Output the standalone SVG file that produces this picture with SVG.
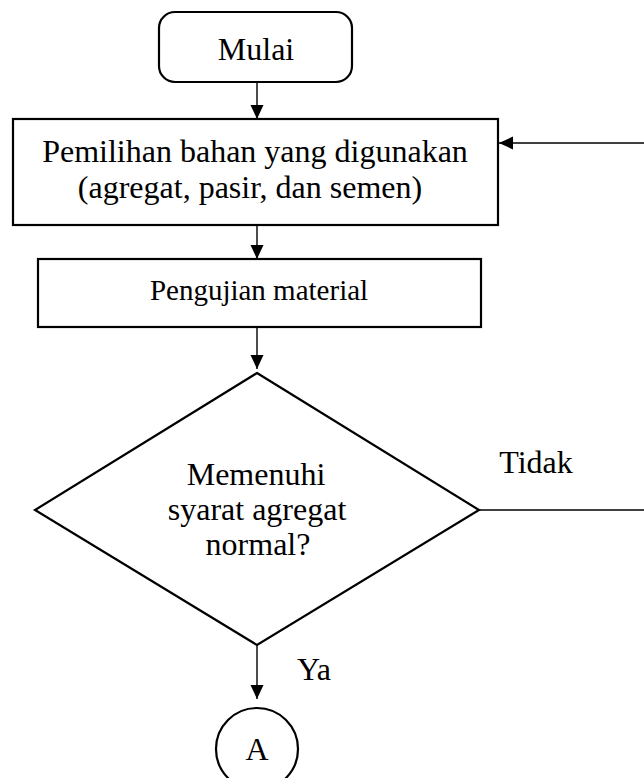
<svg xmlns="http://www.w3.org/2000/svg" width="644" height="778" viewBox="0 0 644 778">
<style>
.shape{fill:#fff;stroke:#000;stroke-width:2.2}
.conn{fill:none;stroke:#000;stroke-width:1.4}
text{font-family:"Liberation Serif","Times New Roman",serif;fill:#000;text-anchor:middle}
.big{font-size:32px}
.mid{font-size:29px}
</style>
<defs>
<marker id="arr" markerUnits="userSpaceOnUse" markerWidth="14" markerHeight="16" refX="14" refY="6.5" orient="auto">
<path d="M0,0 L14,6.5 L0,13 Z" fill="#000"/>
</marker>
</defs>
<rect width="644" height="778" fill="#fff"/>
<g id="connectors">
<line class="conn" x1="257" y1="82" x2="257" y2="119" marker-end="url(#arr)"/>
<line class="conn" x1="644" y1="143" x2="499" y2="143" marker-end="url(#arr)"/>
<line class="conn" x1="257" y1="225" x2="257" y2="259" marker-end="url(#arr)"/>
<line class="conn" x1="257" y1="327" x2="257" y2="369" marker-end="url(#arr)"/>
<line class="conn" x1="479" y1="510" x2="644" y2="510"/>
<line class="conn" x1="257" y1="645" x2="257" y2="699" marker-end="url(#arr)"/>
<text class="big" x="536" y="473">Tidak</text>
<text class="big" x="314" y="680">Ya</text>
</g>
<g id="mulai">
<rect class="shape" x="159" y="12" width="193" height="70" rx="16" ry="16"/>
<text class="big" x="256" y="60">Mulai</text>
</g>
<g id="pemilihan">
<rect class="shape" x="13" y="119" width="485" height="106"/>
<text class="big" x="255" y="162">Pemilihan bahan yang digunakan</text>
<text class="big" x="250" y="198">(agregat, pasir, dan semen)</text>
</g>
<g id="pengujian">
<rect class="shape" x="38" y="259" width="443" height="68"/>
<text class="mid" x="259" y="300">Pengujian material</text>
</g>
<g id="keputusan">
<polygon class="shape" points="257,373 479,510 257,645 35,510"/>
<text class="big" x="256" y="485">Memenuhi</text>
<text class="big" x="257" y="520">syarat agregat</text>
<text class="big" x="258" y="555">normal?</text>
</g>
<g id="a">
<circle class="shape" cx="257" cy="749" r="41"/>
<text class="big" x="257" y="760">A</text>
</g>
</svg>
